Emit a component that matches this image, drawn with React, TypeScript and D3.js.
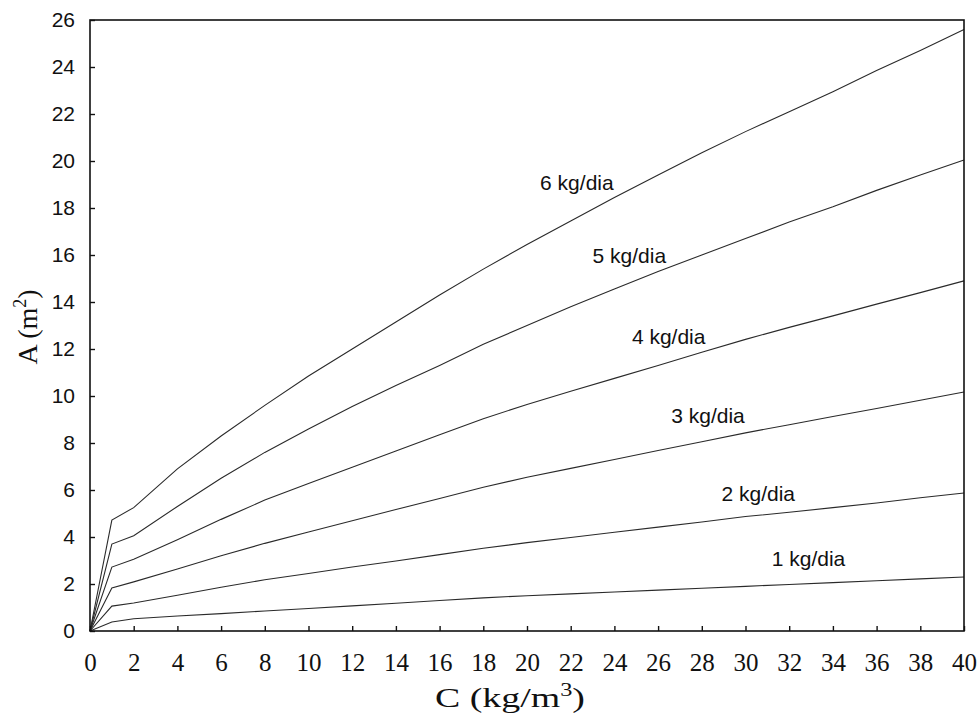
import React from 'react';
import * as d3 from 'd3';

// concentration (kg/m3)
const concentration = [0, 1, 2, 4, 6, 8, 10, 12, 14, 16, 18, 20, 22, 24, 26, 28, 30, 32, 34, 36, 38, 40];

// area (m2) for each load
const area1 = [0, 0.38, 0.52, 0.64, 0.74, 0.85, 0.96, 1.07, 1.18, 1.3, 1.41, 1.5, 1.58, 1.66, 1.74, 1.82, 1.9, 1.98, 2.06, 2.14, 2.22, 2.3];
const area2 = [0, 1.06, 1.19, 1.52, 1.86, 2.18, 2.45, 2.72, 2.98, 3.25, 3.52, 3.76, 3.98, 4.2, 4.42, 4.64, 4.87, 5.05, 5.25, 5.45, 5.67, 5.87];
const area3 = [0, 1.83, 2.09, 2.64, 3.2, 3.73, 4.21, 4.69, 5.17, 5.64, 6.12, 6.54, 6.92, 7.3, 7.68, 8.05, 8.43, 8.78, 9.13, 9.47, 9.82, 10.17];
const area4 = [0, 2.72, 3.05, 3.88, 4.75, 5.57, 6.28, 6.97, 7.66, 8.35, 9.03, 9.64, 10.2, 10.75, 11.3, 11.86, 12.41, 12.92, 13.41, 13.91, 14.4, 14.9];
const area5 = [0, 3.7, 4.05, 5.3, 6.5, 7.6, 8.6, 9.55, 10.45, 11.3, 12.2, 13.0, 13.8, 14.55, 15.3, 16.0, 16.7, 17.4, 18.05, 18.75, 19.4, 20.04];
const area6 = [0, 4.72, 5.25, 6.9, 8.3, 9.6, 10.85, 12.0, 13.15, 14.3, 15.4, 16.45, 17.45, 18.45, 19.4, 20.35, 21.25, 22.1, 22.95, 23.85, 24.7, 25.6];

const seriesNames = ['1 kg/dia', '2 kg/dia', '3 kg/dia', '4 kg/dia', '5 kg/dia', '6 kg/dia'];
const seriesValues = [area1, area2, area3, area4, area5, area6];
// where each curve label sits, in data units (C, A)
const labelC = [31.2, 28.9, 26.6, 24.8, 23.0, 20.6];
const labelA = [2.77, 5.53, 8.85, 12.2, 15.65, 18.75];

const xTicks = d3.range(0, 41, 2);
const yTicks = d3.range(0, 27, 2);

const margin = {top: 20, right: 16, bottom: 87, left: 90};
const width = 980 - margin.left - margin.right;
const height = 718 - margin.top - margin.bottom;

const App = () => {
  const renderChart = (ref: HTMLDivElement) => {
    ref.innerHTML = '';

    const x = d3.scaleLinear().domain([0, 40]).range([0, width]);
    const y = d3.scaleLinear().domain([0, 26]).range([height, 0]);

    const svg = d3.select(ref)
      .append('svg')
      .attr('width', 980)
      .attr('height', 718)
      .style('display', 'block')
      .append('g')
      .attr('transform', `translate(${margin.left}, ${margin.top})`);

    const line = d3.line<number>()
      .x((d, i) => x(concentration[i]))
      .y(d => y(d));

    // curves
    seriesValues.forEach(values => {
      svg.append('path')
        .datum(values)
        .attr('fill', 'none')
        .attr('stroke', '#2a2a2a')
        .attr('stroke-width', 1.1)
        .attr('d', line);
    });

    // curve labels
    seriesNames.forEach((name, i) => {
      svg.append('text')
        .attr('x', x(labelC[i]))
        .attr('y', y(labelA[i]))
        .style('font-family', '"Liberation Sans", Arial, sans-serif')
        .style('font-size', '21px')
        .attr('fill', '#111')
        .text(name);
    });

    // frame
    svg.append('rect')
      .attr('x', 0).attr('y', 0)
      .attr('width', width).attr('height', height)
      .attr('fill', 'none')
      .attr('stroke', '#111')
      .attr('stroke-width', 1.6);

    // x axis, ticks pointing inward
    const xAxis = svg.append('g')
      .attr('transform', `translate(0, ${height})`)
      .call(d3.axisBottom(x).tickValues(xTicks).tickSize(-5).tickPadding(22).tickFormat(d3.format('d')));
    xAxis.select('.domain').remove();
    xAxis.selectAll('line').attr('stroke', '#111').attr('stroke-width', 1.4);
    xAxis.selectAll('text')
      .style('font-family', '"Liberation Serif", "Times New Roman", serif')
      .style('font-size', '25px')
      .attr('fill', '#111');

    // y axis, ticks pointing inward
    const yAxis = svg.append('g')
      .call(d3.axisLeft(y).tickValues(yTicks).tickSize(-5).tickPadding(15).tickFormat(d3.format('d')));
    yAxis.select('.domain').remove();
    yAxis.selectAll('line').attr('stroke', '#111').attr('stroke-width', 1.4);
    yAxis.selectAll('text')
      .style('font-family', '"Liberation Sans", Arial, sans-serif')
      .style('font-size', '21px')
      .attr('fill', '#111');

    // x axis title
    const xTitle = svg.append('text')
      .attr('x', 420)
      .attr('y', height + 76)
      .attr('text-anchor', 'middle')
      .attr('textLength', 150)
      .attr('lengthAdjust', 'spacingAndGlyphs')
      .style('font-family', '"Liberation Serif", "Times New Roman", serif')
      .style('font-size', '28px')
      .attr('fill', '#111');
    xTitle.append('tspan').text('C (kg/m');
    xTitle.append('tspan').attr('dy', -11).style('font-size', '18px').text('3');
    xTitle.append('tspan').attr('dy', 11).text(')');

    // y axis title
    const yTitle = svg.append('text')
      .attr('transform', `translate(${37 - margin.left}, ${327 - margin.top}) rotate(-90)`)
      .attr('text-anchor', 'middle')
      .style('font-family', '"Liberation Serif", "Times New Roman", serif')
      .style('font-size', '28px')
      .attr('fill', '#111');
    yTitle.append('tspan').text('A (m');
    yTitle.append('tspan').attr('dy', -11).style('font-size', '18px').text('2');
    yTitle.append('tspan').attr('dy', 11).text(')');
  };

  return (
    <div
      style={{position: 'absolute', left: 0, top: 0, background: '#fff'}}
      ref={ref => { if (ref !== null) renderChart(ref); }}
    />
  );
};

export default App;
